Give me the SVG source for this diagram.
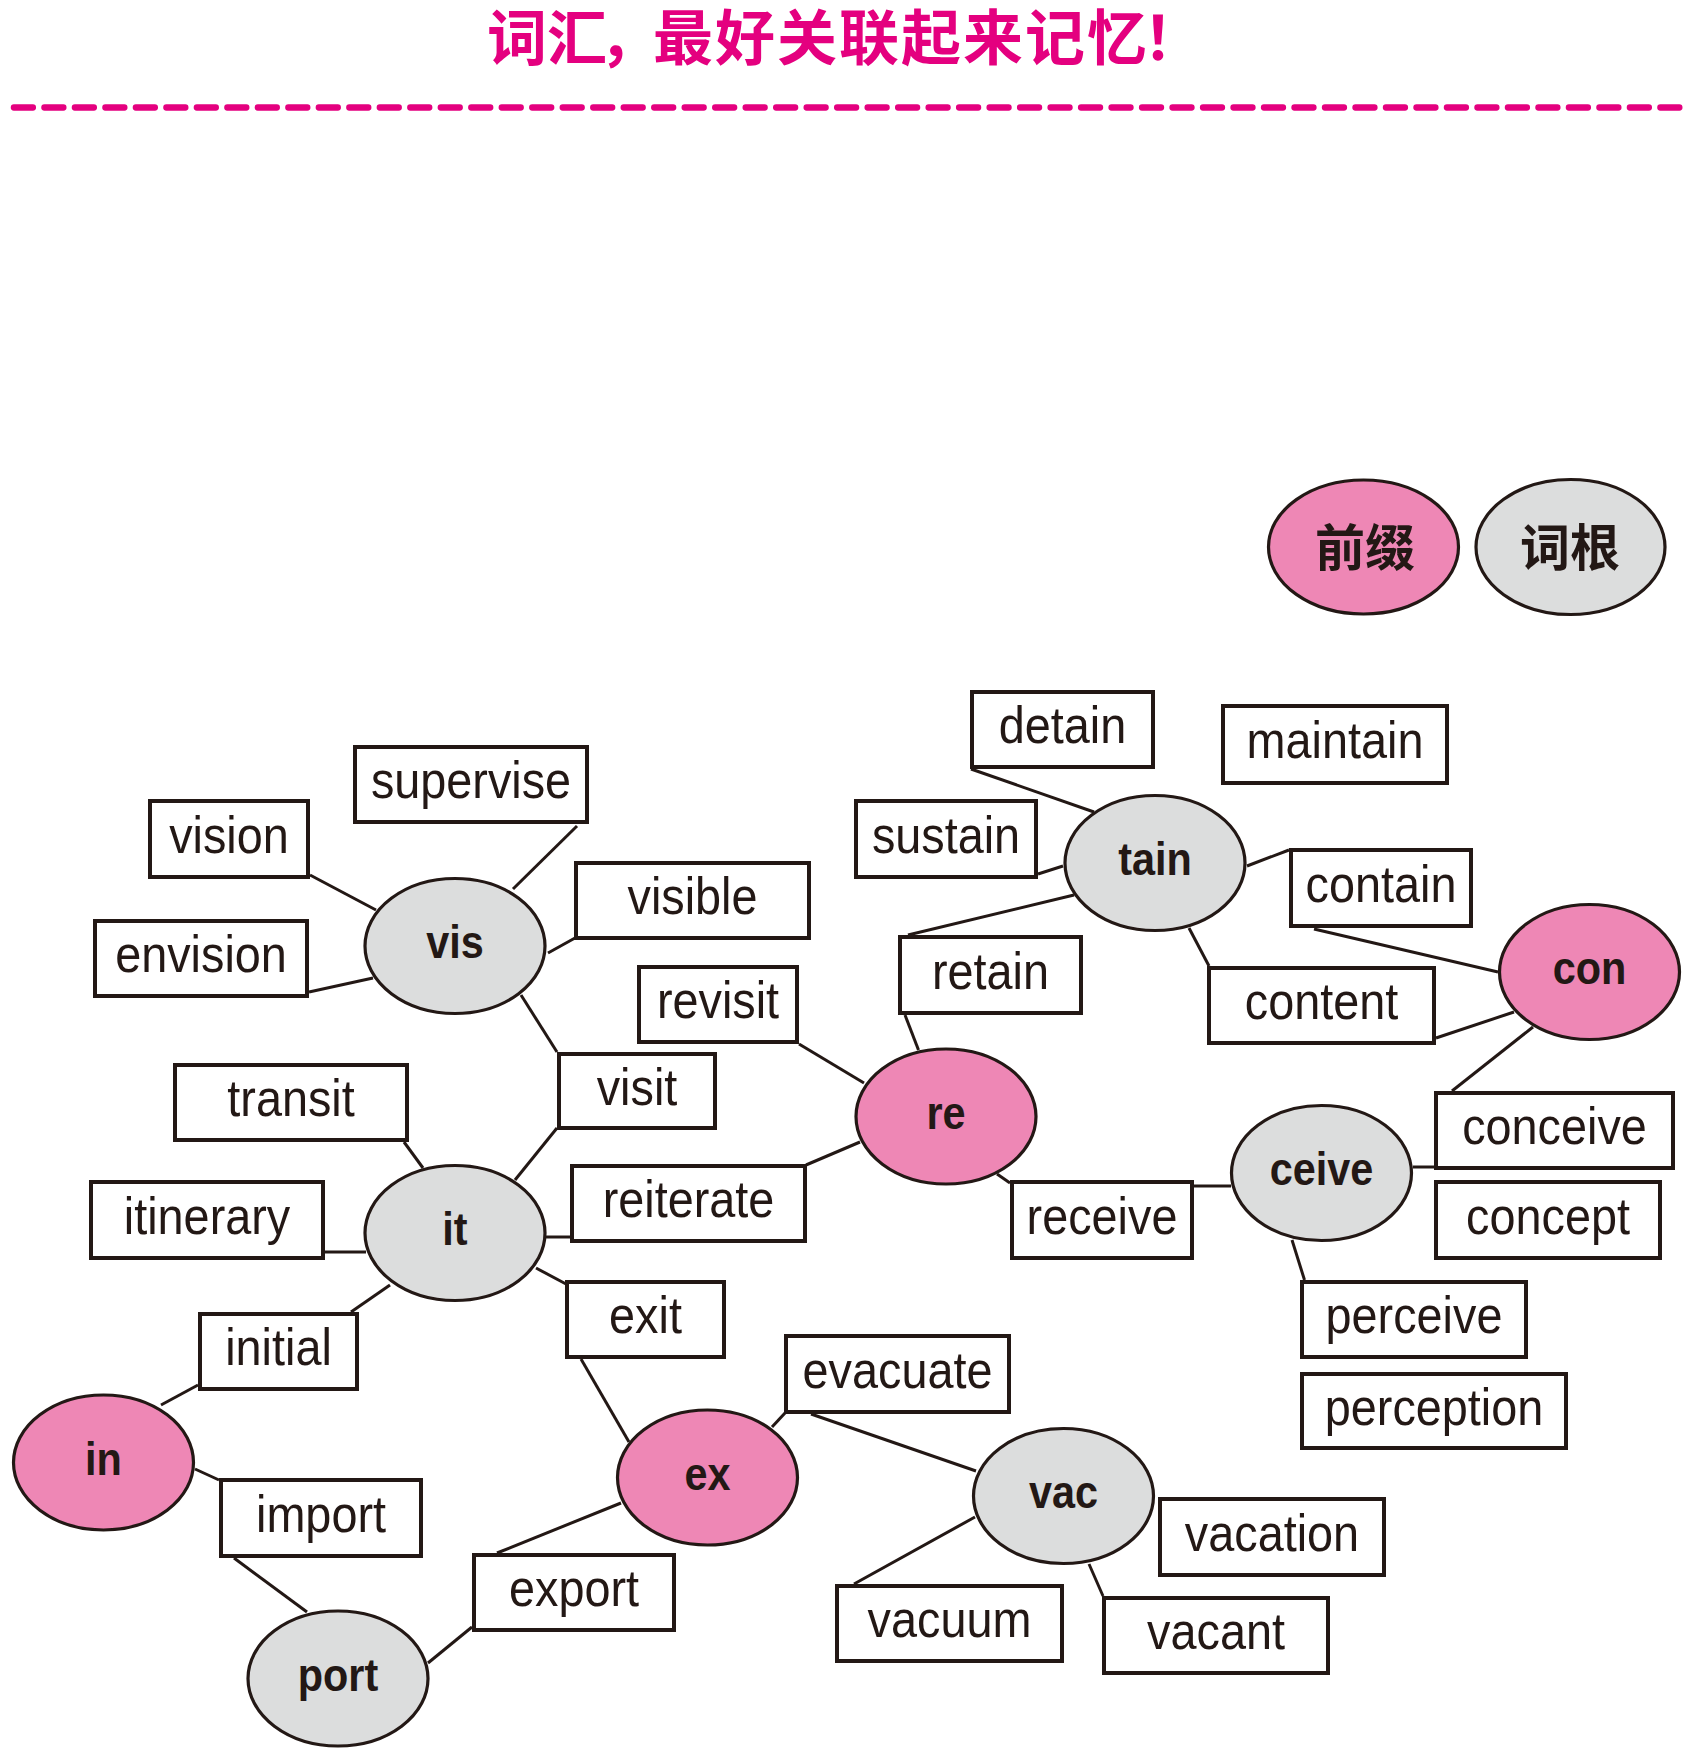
<svg xmlns="http://www.w3.org/2000/svg" width="1689" height="1758" viewBox="0 0 1689 1758">
<style>
.bg{fill:#ffffff}
.box{fill:#ffffff;stroke:#231815;stroke-width:4}
.pre{fill:#EE87B5;stroke:#231815;stroke-width:3.2}
.root{fill:#DCDDDD;stroke:#231815;stroke-width:3.2}
.w{font-family:"Liberation Sans",Arial,sans-serif;font-size:52px;fill:#231815;text-anchor:middle}
.b{font-family:"Liberation Sans",Arial,sans-serif;font-size:46px;font-weight:bold;fill:#231815;text-anchor:middle}
.cjk{font-family:"Noto Sans CJK SC",sans-serif;font-size:50px;font-weight:bold;fill:#231815;text-anchor:middle}
.title{font-family:"Noto Sans CJK SC",sans-serif;font-size:60px;font-weight:bold;fill:#E4007F}
#connectors line{stroke:#231815;stroke-width:3}
</style>
<rect class="bg" x="0" y="0" width="1689" height="1758"/>
<g id="title">
<text class="title" x="487" y="60" dx="0 0 -8 -6 2 2 2 2 2 2 2 -4">词汇，最好关联起来记忆！</text>
<line x1="13.9" y1="107.5" x2="1680" y2="107.5" stroke="#E4007F" stroke-width="6.3" stroke-linecap="round" stroke-dasharray="19 11.49"/>
</g>
<g id="legend">
<g id="legend-prefix"><ellipse class="pre" cx="1363.5" cy="547" rx="95" ry="67"/><text class="cjk" x="1365" y="566">前缀</text></g>
<g id="legend-root"><ellipse class="root" cx="1570.5" cy="547" rx="94.5" ry="67.5"/><text class="cjk" x="1570" y="566">词根</text></g>
</g>
<g id="connectors">
<line x1="310" y1="875" x2="376" y2="910"/>
<line x1="577" y1="826" x2="513" y2="889"/>
<line x1="575" y1="938" x2="548" y2="953"/>
<line x1="309" y1="992" x2="373" y2="978"/>
<line x1="521" y1="995" x2="557" y2="1052"/>
<line x1="799" y1="1044" x2="864" y2="1083"/>
<line x1="971" y1="769" x2="1094" y2="812"/>
<line x1="1038" y1="874" x2="1063" y2="866"/>
<line x1="908" y1="935" x2="1074" y2="895"/>
<line x1="1247" y1="866" x2="1289" y2="850"/>
<line x1="1189" y1="928" x2="1209" y2="966"/>
<line x1="1314" y1="929" x2="1498" y2="972"/>
<line x1="1436" y1="1038" x2="1514" y2="1012"/>
<line x1="905" y1="1015" x2="918.5" y2="1050"/>
<line x1="1533" y1="1027" x2="1452" y2="1091"/>
<line x1="404" y1="1142" x2="423" y2="1168"/>
<line x1="325" y1="1252" x2="366" y2="1252"/>
<line x1="557" y1="1128" x2="515" y2="1180"/>
<line x1="546" y1="1237" x2="570" y2="1237"/>
<line x1="536" y1="1268" x2="566" y2="1284"/>
<line x1="390" y1="1285" x2="351" y2="1312"/>
<line x1="198" y1="1385" x2="161" y2="1405"/>
<line x1="581" y1="1359" x2="629" y2="1442"/>
<line x1="806" y1="1165" x2="860" y2="1142"/>
<line x1="997" y1="1174" x2="1010" y2="1183"/>
<line x1="1194" y1="1186" x2="1231" y2="1186"/>
<line x1="1413" y1="1167" x2="1434" y2="1167"/>
<line x1="1292" y1="1240" x2="1304.5" y2="1280"/>
<line x1="811" y1="1414" x2="976" y2="1471"/>
<line x1="975" y1="1517" x2="854" y2="1584"/>
<line x1="1089" y1="1564" x2="1103" y2="1596"/>
<line x1="772" y1="1427" x2="785" y2="1413"/>
<line x1="195" y1="1469" x2="219" y2="1480"/>
<line x1="234" y1="1558" x2="307" y2="1612"/>
<line x1="428" y1="1663" x2="472" y2="1627"/>
<line x1="497" y1="1553" x2="621" y2="1503"/>
</g>
<g id="supervise"><rect class="box" x="355" y="747" width="232" height="75"/><text class="w" transform="translate(471 798) scale(.9 1)">supervise</text></g>
<g id="vision"><rect class="box" x="150" y="801" width="158" height="76"/><text class="w" transform="translate(229 852.5) scale(.9 1)">vision</text></g>
<g id="envision"><rect class="box" x="95" y="921" width="212" height="75"/><text class="w" transform="translate(201 972) scale(.9 1)">envision</text></g>
<g id="visible"><rect class="box" x="576" y="863" width="233" height="75"/><text class="w" transform="translate(692.5 914) scale(.9 1)">visible</text></g>
<g id="revisit"><rect class="box" x="639" y="967" width="158" height="75"/><text class="w" transform="translate(718 1018) scale(.9 1)">revisit</text></g>
<g id="visit"><rect class="box" x="559" y="1054" width="156" height="74"/><text class="w" transform="translate(637 1104.5) scale(.9 1)">visit</text></g>
<g id="transit"><rect class="box" x="175" y="1065" width="232" height="75"/><text class="w" transform="translate(291 1116) scale(.9 1)">transit</text></g>
<g id="itinerary"><rect class="box" x="91" y="1182" width="232" height="76"/><text class="w" transform="translate(207 1233.5) scale(.9 1)">itinerary</text></g>
<g id="reiterate"><rect class="box" x="572" y="1166" width="233" height="75"/><text class="w" transform="translate(688.5 1217) scale(.9 1)">reiterate</text></g>
<g id="exit"><rect class="box" x="567" y="1282" width="157" height="75"/><text class="w" transform="translate(645.5 1333) scale(.9 1)">exit</text></g>
<g id="initial"><rect class="box" x="200" y="1314" width="157" height="75"/><text class="w" transform="translate(278.5 1365) scale(.9 1)">initial</text></g>
<g id="import"><rect class="box" x="221" y="1480" width="200" height="76"/><text class="w" transform="translate(321 1531.5) scale(.9 1)">import</text></g>
<g id="export"><rect class="box" x="474" y="1555" width="200" height="75"/><text class="w" transform="translate(574 1606) scale(.9 1)">export</text></g>
<g id="evacuate"><rect class="box" x="786" y="1336" width="223" height="76"/><text class="w" transform="translate(897.5 1387.5) scale(.9 1)">evacuate</text></g>
<g id="detain"><rect class="box" x="972" y="692" width="181" height="75"/><text class="w" transform="translate(1062.5 743) scale(.9 1)">detain</text></g>
<g id="maintain"><rect class="box" x="1223" y="706" width="224" height="77"/><text class="w" transform="translate(1335 758) scale(.9 1)">maintain</text></g>
<g id="sustain"><rect class="box" x="856" y="801" width="180" height="76"/><text class="w" transform="translate(946 852.5) scale(.9 1)">sustain</text></g>
<g id="contain"><rect class="box" x="1291" y="850" width="180" height="76"/><text class="w" transform="translate(1381 901.5) scale(.9 1)">contain</text></g>
<g id="retain"><rect class="box" x="900" y="937" width="181" height="76"/><text class="w" transform="translate(990.5 988.5) scale(.9 1)">retain</text></g>
<g id="content"><rect class="box" x="1209" y="968" width="225" height="75"/><text class="w" transform="translate(1321.5 1019) scale(.9 1)">content</text></g>
<g id="receive"><rect class="box" x="1012" y="1182" width="180" height="76"/><text class="w" transform="translate(1102 1233.5) scale(.9 1)">receive</text></g>
<g id="conceive"><rect class="box" x="1436" y="1093" width="237" height="75"/><text class="w" transform="translate(1554.5 1144) scale(.9 1)">conceive</text></g>
<g id="concept"><rect class="box" x="1436" y="1182" width="224" height="76"/><text class="w" transform="translate(1548 1233.5) scale(.9 1)">concept</text></g>
<g id="perceive"><rect class="box" x="1302" y="1282" width="224" height="75"/><text class="w" transform="translate(1414 1333) scale(.9 1)">perceive</text></g>
<g id="perception"><rect class="box" x="1302" y="1374" width="264" height="74"/><text class="w" transform="translate(1434 1424.5) scale(.9 1)">perception</text></g>
<g id="vacation"><rect class="box" x="1160" y="1499" width="224" height="76"/><text class="w" transform="translate(1272 1550.5) scale(.9 1)">vacation</text></g>
<g id="vacuum"><rect class="box" x="837" y="1586" width="225" height="75"/><text class="w" transform="translate(949.5 1637) scale(.9 1)">vacuum</text></g>
<g id="vacant"><rect class="box" x="1104" y="1598" width="224" height="75"/><text class="w" transform="translate(1216 1649) scale(.9 1)">vacant</text></g>
<g id="vis"><ellipse class="root" cx="455" cy="946" rx="90" ry="67.5"/><text class="b" transform="translate(455 958) scale(.9 1)">vis</text></g>
<g id="it"><ellipse class="root" cx="455" cy="1233" rx="90" ry="67.5"/><text class="b" transform="translate(455 1245) scale(.9 1)">it</text></g>
<g id="tain"><ellipse class="root" cx="1155" cy="863" rx="90" ry="67.5"/><text class="b" transform="translate(1155 875) scale(.9 1)">tain</text></g>
<g id="ceive"><ellipse class="root" cx="1321.5" cy="1173" rx="90" ry="67.5"/><text class="b" transform="translate(1321.5 1185) scale(.9 1)">ceive</text></g>
<g id="vac"><ellipse class="root" cx="1063.5" cy="1496" rx="90" ry="67.5"/><text class="b" transform="translate(1063.5 1508) scale(.9 1)">vac</text></g>
<g id="port"><ellipse class="root" cx="338" cy="1678.5" rx="90" ry="67.5"/><text class="b" transform="translate(338 1690.5) scale(.9 1)">port</text></g>
<g id="con"><ellipse class="pre" cx="1589.5" cy="972" rx="90" ry="67.5"/><text class="b" transform="translate(1589.5 984) scale(.9 1)">con</text></g>
<g id="re"><ellipse class="pre" cx="946" cy="1116.5" rx="90" ry="67.5"/><text class="b" transform="translate(946 1128.5) scale(.9 1)">re</text></g>
<g id="ex"><ellipse class="pre" cx="707.5" cy="1477.5" rx="90" ry="67.5"/><text class="b" transform="translate(707.5 1489.5) scale(.9 1)">ex</text></g>
<g id="in"><ellipse class="pre" cx="103.5" cy="1462.5" rx="90" ry="67.5"/><text class="b" transform="translate(103.5 1474.5) scale(.9 1)">in</text></g>
</svg>
